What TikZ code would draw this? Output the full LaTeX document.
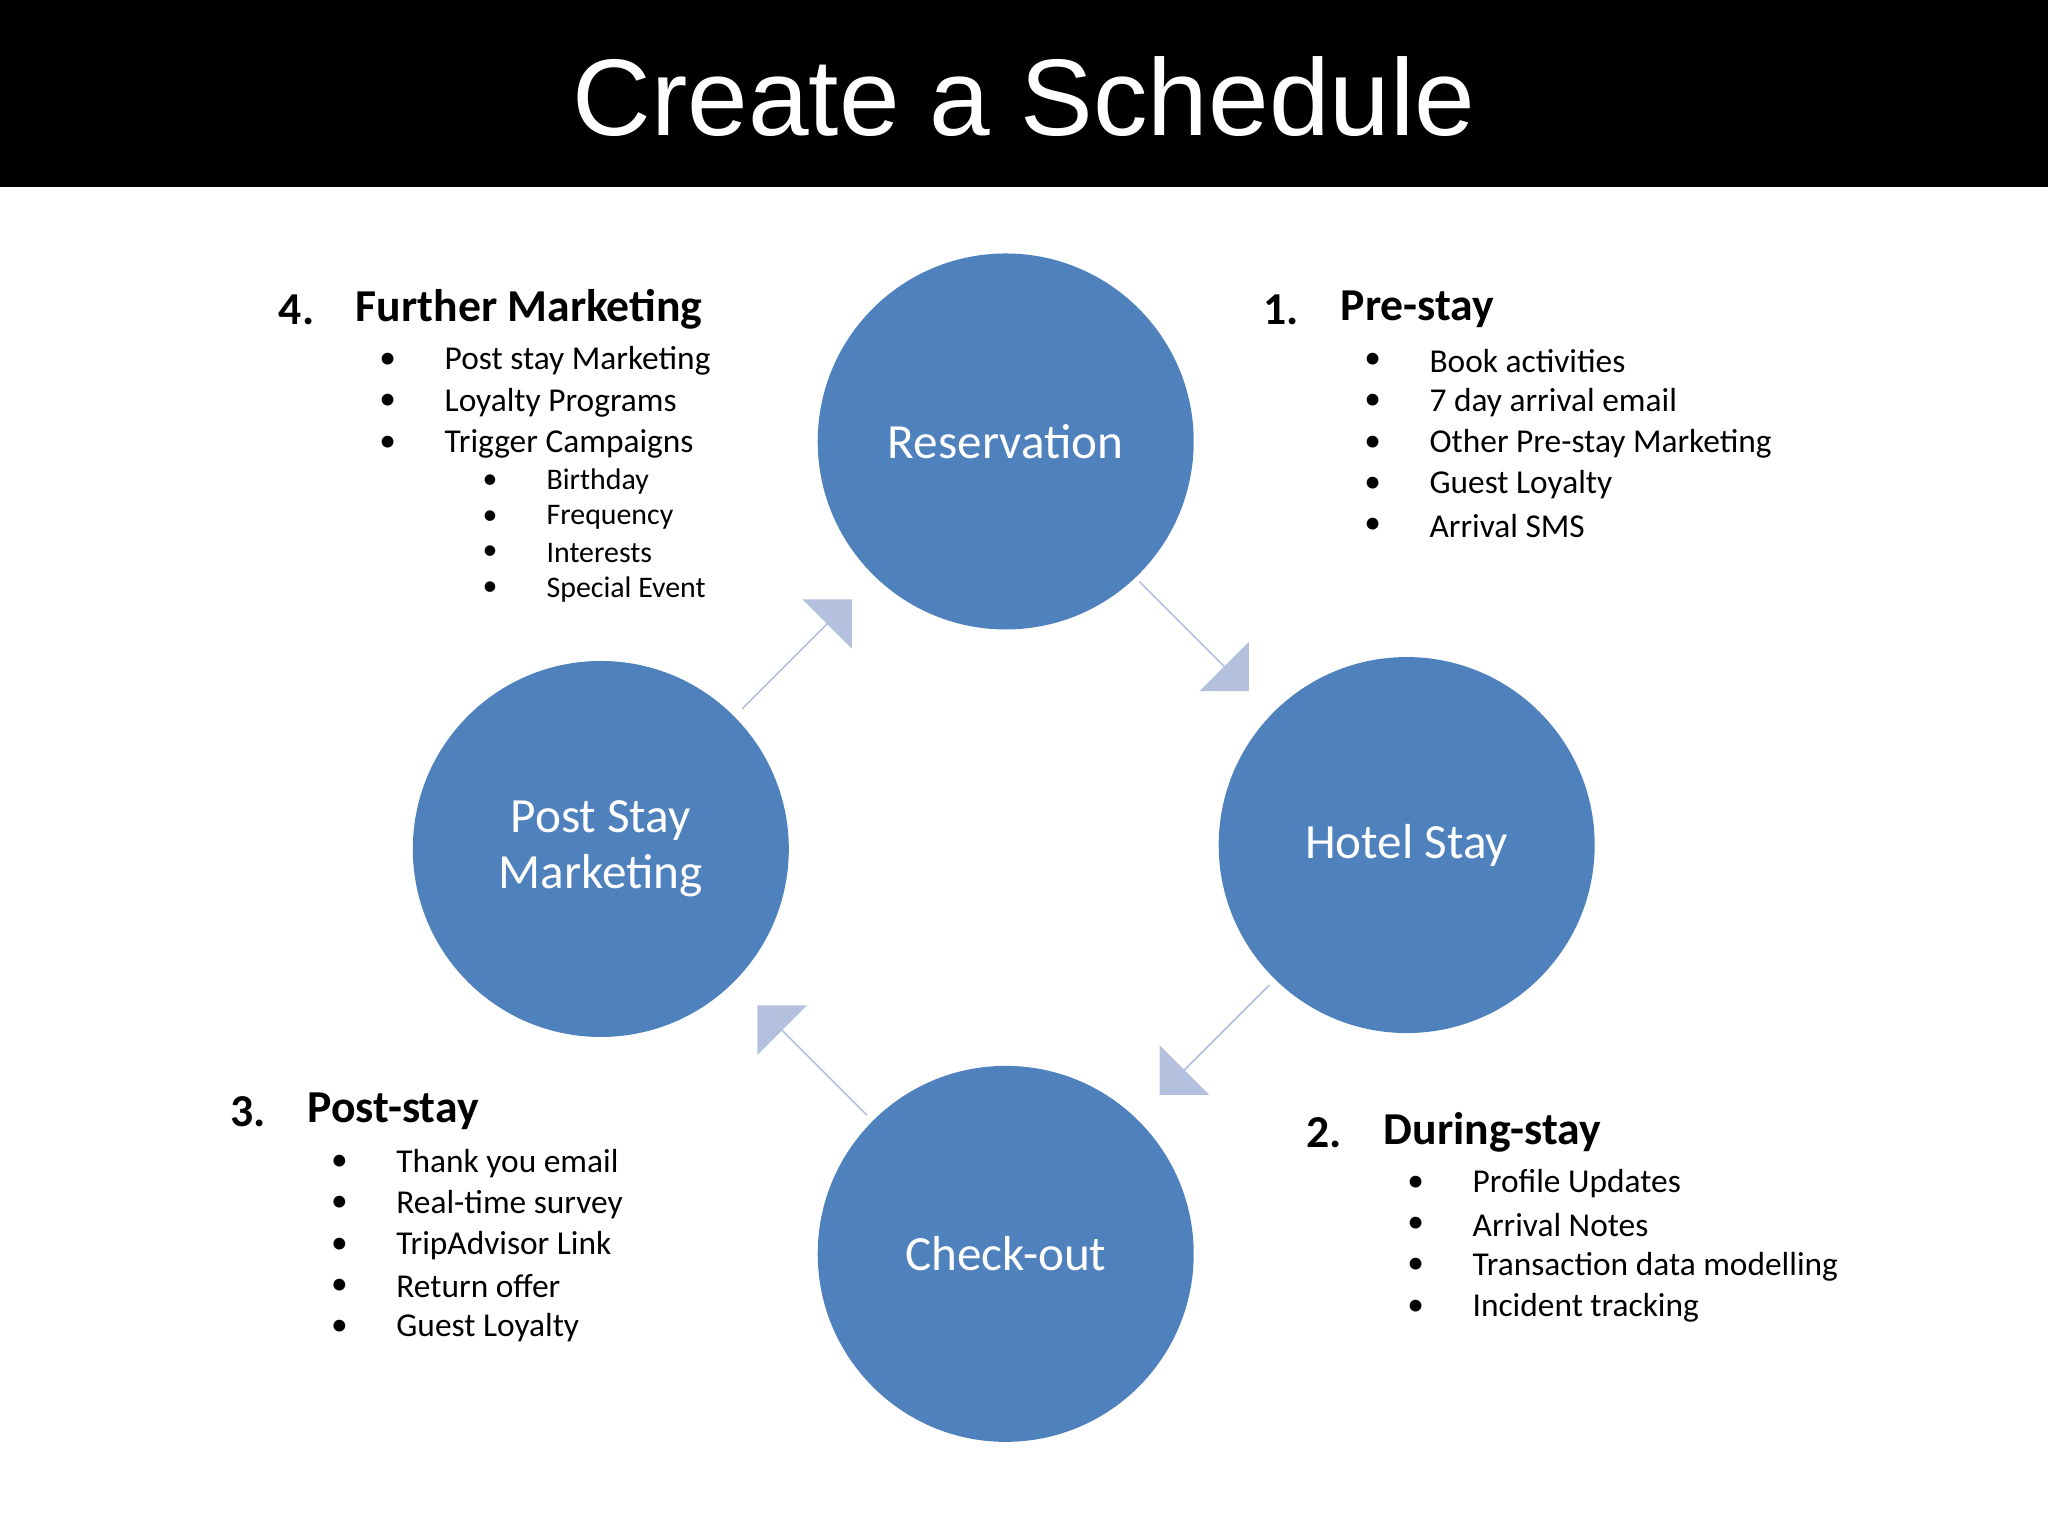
\documentclass[tikz,border=0pt]{standalone}
\usepackage{fontspec}
\setmainfont{Carlito}
\newfontfamily\titlefont{Liberation Sans}
\usetikzlibrary{shapes.arrows}
\definecolor{stepblue}{HTML}{4F81BD}
\definecolor{flowblue}{HTML}{B3C1DF}

\tikzset{
    stage/.style={circle, fill=stepblue, minimum size=3.76cm, inner sep=0pt,
        text=white, align=center, font=\fontsize{14}{16}\selectfont},
    flow/.style={single arrow, fill=flowblue, minimum height=1.55cm,
        minimum width=0.7cm, single arrow head extend=0.3cm, inner sep=0pt},
    head/.style={anchor=west, font=\fontsize{13}{15}\selectfont\bfseries},
    item/.style={anchor=west, font=\fontsize{9.5}{11}\selectfont},
    subitem/.style={anchor=west, font=\fontsize{8.5}{10}\selectfont}
}

\begin{document}
\begin{tikzpicture}[x=0.013061cm, y=-0.013061cm]
    \useasboundingbox (0,0) rectangle (1568,1176);
    \fill [black] (0,0) rectangle (1568,143);
    \node (title) [text=white, font=\titlefont\fontsize{31}{36}\selectfont] at (784,74) {Create a Schedule};

    % circles
    \node (res) [stage] at (770,338) {Reservation};
    \node (hotel) [stage] at (1077,647) {Hotel Stay};
    \node (out) [stage] at (770,960) {Check-out};
    \node (post) [stage] at (460,650) {Post Stay\\Marketing};

    % flow arrows
    \node (f1) [flow, rotate=-45] at (914,487) {};
    \node (f2) [flow, rotate=-135] at (930,796) {};
    \node (f3) [flow, rotate=135] at (622,812) {};
    \node (f4) [flow, rotate=45] at (610,501) {};

    % 1. Pre-stay
    \node (h1n) [head] at (958,237) {1.};
    \node (h1) [head] at (1017,237) {Pre-stay};
    \foreach \txt [count=\i] in {Book activities, 7 day arrival email, Other Pre-stay Marketing, Guest Loyalty, Arrival SMS} {
        \node (b1\i) [item] at (1035,245+31.5*\i) {\textbullet};
        \node (pre\i) [item] at (1085,245+31.5*\i) {\txt};
    }

    % 2. During-stay
    \node (h2n) [head] at (991,867) {2.};
    \node (h2) [head] at (1050,867) {During-stay};
    \foreach \txt [count=\i] in {Profile Updates, Arrival Notes, Transaction data modelling, Incident tracking} {
        \node (b2\i) [item] at (1068,875+31.5*\i) {\textbullet};
        \node (dur\i) [item] at (1118,875+31.5*\i) {\txt};
    }

    % 3. Post-stay
    \node (h3n) [head] at (167,851) {3.};
    \node (h3) [head] at (226,851) {Post-stay};
    \foreach \txt [count=\i] in {Thank you email, Real-time survey, TripAdvisor Link, Return offer, Guest Loyalty} {
        \node (b3\i) [item] at (244,859+31.5*\i) {\textbullet};
        \node (pst\i) [item] at (294,859+31.5*\i) {\txt};
    }

    % 4. Further Marketing
    \node (h4n) [head] at (204,237) {4.};
    \node (h4) [head] at (263,237) {Further Marketing};
    \foreach \txt [count=\i] in {Post stay Marketing, Loyalty Programs, Trigger Campaigns} {
        \node (b4\i) [item] at (281,245+31.5*\i) {\textbullet};
        \node (fur\i) [item] at (331,245+31.5*\i) {\txt};
    }
    \foreach \txt [count=\i] in {Birthday, Frequency, Interests, Special Event} {
        \node (s4\i) [subitem] at (360,341+27.5*\i) {\textbullet};
        \node (trg\i) [subitem] at (409,341+27.5*\i) {\txt};
    }
\end{tikzpicture}
\end{document}
